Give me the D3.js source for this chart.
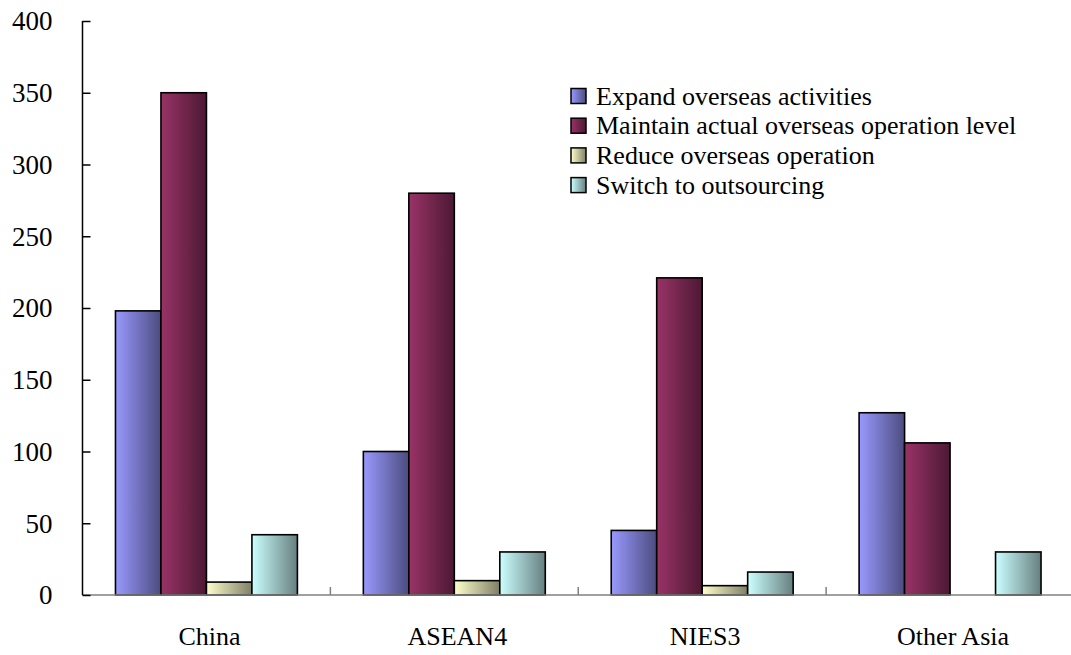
<!DOCTYPE html>
<html>
<head>
<meta charset="utf-8">
<script src="https://cdn.jsdelivr.net/npm/d3@7"></script>
<style>
  html, body { margin: 0; padding: 0; background: #fff; }
  svg { display: block; }
  svg text { font-family: "Liberation Serif", "DejaVu Serif", serif !important; }
</style>
</head>
<body>
<svg id="chart" width="1071" height="655"></svg>
<script>
const categories = ["China", "ASEAN4", "NIES3", "Other Asia"];
const seriesNames = [
  "Expand overseas activities",
  "Maintain actual overseas operation level",
  "Reduce overseas operation",
  "Switch to outsourcing"
];
const expandValues   = [198, 100, 45, 127];
const maintainValues = [350, 280, 221, 106];
const reduceValues   = [9, 10, 6.5, 0];
const switchValues   = [42, 30, 16, 30];
const yTicks = [0, 50, 100, 150, 200, 250, 300, 350, 400];
const seriesColors = ["#9999FF", "#993366", "#FFFFCC", "#CCFFFF"];

const allValues = [expandValues, maintainValues, reduceValues, switchValues];

const svg = d3.select("#chart");
const W = 1071, H = 655;
const mLeft = 82.5, mRight = 1074, mTop = 21, mBottom = 595;
const FONT = "Liberation Serif";

const defs = svg.append("defs");
seriesColors.forEach((c, i) => {
  const g = defs.append("linearGradient").attr("id", "grad" + i)
    .attr("x1", "0%").attr("x2", "100%").attr("y1", "0%").attr("y2", "0%");
  g.append("stop").attr("offset", "0%").attr("stop-color", c);
  g.append("stop").attr("offset", "100%").attr("stop-color", d3.color(c).darker(1.95).formatHex());
});

const y = d3.scaleLinear().domain([0, 400]).range([mBottom, mTop]);
const x0 = d3.scaleBand().domain(categories).range([mLeft, mRight]).paddingInner(0).paddingOuter(0);
const x1 = d3.scaleBand().domain(seriesNames).range([0, x0.bandwidth()]).paddingInner(0).paddingOuter(0.725);

// bars
const data = [];
categories.forEach((cat, ci) => {
  seriesNames.forEach((s, si) => {
    data.push({cat, s, si, v: allValues[si][ci]});
  });
});

svg.append("g").selectAll("rect").data(data.filter(d => d.v > 0)).join("rect")
  .attr("x", d => x0(d.cat) + x1(d.s))
  .attr("y", d => y(d.v))
  .attr("width", x1.bandwidth())
  .attr("height", d => y(0) - y(d.v))
  .attr("fill", d => `url(#grad${d.si})`)
  .attr("stroke", "#000")
  .attr("stroke-width", 1.6);

// x axis (gray)
const xg = svg.append("g");
xg.append("line").attr("x1", mLeft).attr("x2", W).attr("y1", mBottom).attr("y2", mBottom)
  .attr("stroke", "#808080").attr("stroke-width", 1.5);
xg.selectAll("line.tk").data(categories.slice(1)).join("line").attr("class", "tk")
  .attr("x1", d => x0(d)).attr("x2", d => x0(d))
  .attr("y1", mBottom).attr("y2", mBottom - 8)
  .attr("stroke", "#808080").attr("stroke-width", 1.5);
xg.selectAll("text").data(categories).join("text")
  .attr("x", d => x0(d) + x0.bandwidth() / 2 + 3)
  .attr("y", 645)
  .attr("text-anchor", "middle")
  .attr("font-family", FONT)
  .attr("font-size", 26)
  .attr("fill", "#000")
  .text(d => d);

// y axis
const yAxis = d3.axisRight(y).tickValues(yTicks).tickSize(8).tickFormat(d3.format("d"));
const yg = svg.append("g").attr("transform", `translate(${mLeft},0)`).call(yAxis)
  .attr("font-family", FONT);
yg.select(".domain").attr("stroke", "#000").attr("stroke-width", 1.5)
  .attr("d", `M0,${mTop}V${mBottom}`);
yg.selectAll(".tick line").attr("stroke", "#000").attr("stroke-width", 1.5);
yg.selectAll(".tick text")
  .attr("x", -30).attr("dy", "0.33em")
  .attr("text-anchor", "end")
  .attr("font-size", 27)
  .attr("font-family", FONT)
  .attr("fill", "#000");

// legend
const legend = svg.append("g").attr("transform", "translate(571,96)");
const lg = legend.selectAll("g").data(seriesNames).join("g")
  .attr("transform", (d, i) => `translate(0,${i * 29.7})`);
lg.append("rect").attr("x", 0).attr("y", -7.5).attr("width", 15).attr("height", 15)
  .attr("fill", (d, i) => `url(#grad${i})`).attr("stroke", "#000").attr("stroke-width", 1.5);
lg.append("text").attr("x", 25).attr("y", 0).attr("dy", "0.33em")
  .attr("font-family", FONT)
  .attr("font-size", 26).attr("fill", "#000").text(d => d);
</script>
</body>
</html>
